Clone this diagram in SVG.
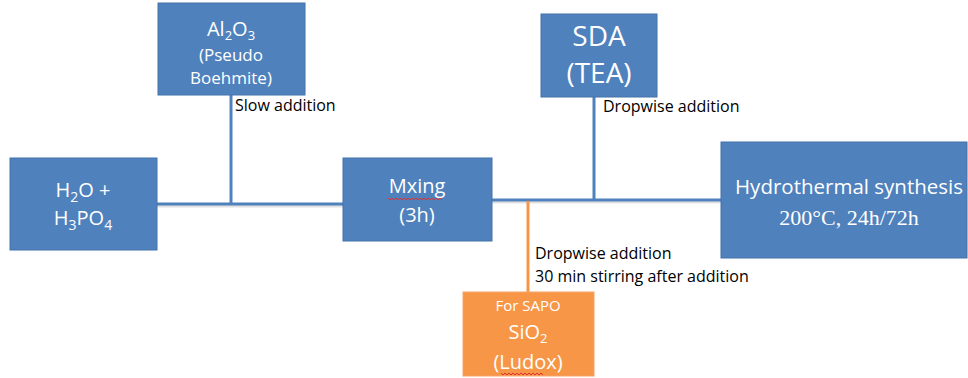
<svg xmlns="http://www.w3.org/2000/svg" width="968" height="378" viewBox="0 0 968 378">
<style>
.b{fill:#4F81BD;stroke:#4573AA;stroke-width:1}
.o{fill:#F79646;stroke:#F5A36A;stroke-width:1}
.t{font-family:"Open Sans","Liberation Sans",sans-serif;fill:#fff;text-anchor:middle}
.s{font-family:"Liberation Serif",serif;fill:#fff;text-anchor:middle}
.l{font-family:"Open Sans","Liberation Sans",sans-serif;fill:#000;font-size:16px}
.c{fill:none;stroke:#4F81BD;stroke-width:3}
.co{fill:none;stroke:#F79646;stroke-width:3}
.sh{fill:none;stroke:#000;stroke-opacity:0.12;stroke-width:3}
.sq{fill:none;stroke:#E03030;stroke-width:1}
</style>
<rect width="968" height="378" fill="#fff"/>
<g id="connectors">
<line class="sh" x1="157" y1="206" x2="343" y2="206"/>
<line class="sh" x1="492" y1="202" x2="721" y2="202"/>
<line class="c" x1="157" y1="204" x2="343" y2="204"/>
<line class="c" x1="231" y1="95" x2="231" y2="204"/>
<line class="c" x1="492" y1="200" x2="721" y2="200"/>
<line class="c" x1="594" y1="97" x2="594" y2="200"/>
<line class="co" x1="528" y1="201" x2="528" y2="292"/>
<text class="l" x="235" y="111" font-size="16.5">Slow addition</text>
<text class="l" x="603" y="112">Dropwise addition</text>
<text class="l" x="535" y="259">Dropwise addition</text>
<text class="l" x="535" y="282">30 min stirring after addition</text>
</g>
<g id="n-al2o3">
<rect class="b" x="158" y="3" width="147" height="92"/>
<text class="t" x="231" y="36" font-size="20">Al<tspan font-size="13" dy="4">2</tspan><tspan dy="-4">O</tspan><tspan font-size="13" dy="4">3</tspan></text>
<text class="t" x="231" y="61" font-size="17">(Pseudo</text>
<text class="t" x="231" y="84" font-size="17">Boehmite)</text>
</g>
<g id="n-h2o">
<rect class="b" x="10" y="158" width="147" height="92"/>
<text class="t" x="83" y="197" font-size="20">H<tspan font-size="14" dy="5">2</tspan><tspan dy="-5">O +</tspan></text>
<text class="t" x="83" y="225" font-size="20">H<tspan font-size="14" dy="5">3</tspan><tspan dy="-5">PO</tspan><tspan font-size="14" dy="5">4</tspan></text>
</g>
<g id="n-mixing">
<rect class="b" x="343" y="158" width="149" height="83"/>
<text class="t" x="417" y="193" font-size="20">Mxing</text>
<path class="sq" d="M388 198 l2 2 l2 -2 l2 2 l2 -2 l2 2 l2 -2 l2 2 l2 -2 l2 2 l2 -2 l2 2 l2 -2 l2 2 l2 -2 l2 2 l2 -2 l2 2 l2 -2 l2 2 l2 -2 l2 2 l2 -2 l2 2 l2 -2 l2 2 l2 -2 l2 2"/>
<text class="t" x="417" y="222" font-size="20">(3h)</text>
</g>
<g id="n-sda">
<rect class="b" x="541" y="14" width="116" height="83"/>
<text class="t" x="599" y="46" font-size="28">SDA</text>
<text class="t" x="599" y="83" font-size="28">(TEA)</text>
</g>
<g id="n-hydro">
<rect class="b" x="721" y="142" width="246" height="116"/>
<text class="t" x="849" y="194" font-size="20.5">Hydrothermal synthesis</text>
<text class="s" x="849" y="225" font-size="22">200°C, 24h/72h</text>
</g>
<g id="n-sio2">
<rect class="o" x="463" y="292" width="131" height="84"/>
<text class="t" x="528" y="311" font-size="15">For SAPO</text>
<text class="t" x="528" y="339" font-size="20">SiO<tspan font-size="13" dy="4">2</tspan></text>
<text class="t" x="528" y="369" font-size="20">(Ludox)</text>
<path class="sq" d="M501 373 l2 2 l2 -2 l2 2 l2 -2 l2 2 l2 -2 l2 2 l2 -2 l2 2 l2 -2 l2 2 l2 -2 l2 2 l2 -2 l2 2 l2 -2 l2 2 l2 -2 l2 2 l2 -2 l2 2"/>
</g>
</svg>
